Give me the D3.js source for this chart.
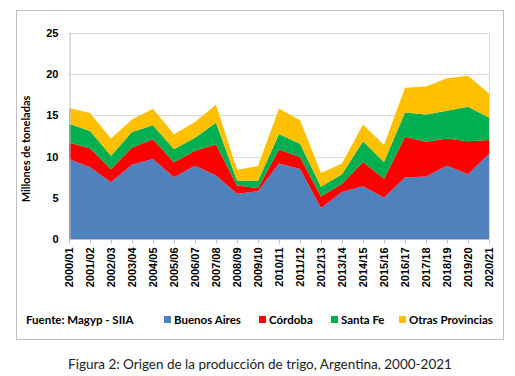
<!DOCTYPE html>
<html>
<head>
<meta charset="utf-8">
<script src="https://cdn.jsdelivr.net/npm/d3@7"></script>
<style>
  body { margin: 0; background: #fff; }
  svg { font-family: Lato, "Open Sans", sans-serif; }
</style>
</head>
<body>
<script>
const campanias = ["2000/01","2001/02","2002/03","2003/04","2004/05","2005/06","2006/07",
  "2007/08","2008/09","2009/10","2010/11","2011/12","2012/13","2013/14","2014/15",
  "2015/16","2016/17","2017/18","2018/19","2019/20","2020/21"];

// millones de toneladas
const buenosAires = [9.7, 8.7, 6.9, 9.0, 9.7, 7.5, 8.9, 7.7, 5.5, 5.8, 9.15, 8.5, 3.75, 5.7, 6.4, 5.0, 7.45, 7.6, 8.9, 7.85, 10.35];
const cordoba     = [2.0, 2.3, 1.6, 2.1, 2.4, 1.8, 1.8, 3.8, 1.0, 0.4, 1.7, 1.45, 1.4, 1.0, 2.95, 2.3, 4.95, 4.2, 3.3, 4.0, 1.65];
const santaFe     = [2.3, 2.1, 1.6, 1.9, 1.7, 1.6, 1.6, 2.6, 0.6, 0.85, 1.9, 1.6, 1.2, 1.15, 2.5, 2.05, 2.95, 3.3, 3.35, 4.2, 2.75];
const otras       = [1.9, 2.2, 2.1, 1.5, 2.0, 1.8, 1.9, 2.2, 1.3, 1.8, 3.1, 2.85, 1.65, 1.3, 2.05, 2.05, 3.0, 3.4, 3.95, 3.75, 2.9];

const series = ["Buenos Aires", "Córdoba", "Santa Fe", "Otras Provincias"];
const colors = ["#4f81bd", "#ff0000", "#00b050", "#ffc000"];
const yTicks = [0, 5, 10, 15, 20, 25];

const w = 515, h = 376;
const plotLeft = 69, plotRight = 489, plotTop = 33, plotBottom = 239;

const svg = d3.select("body").append("svg")
  .attr("width", w).attr("height", h);

// chart frame
svg.append("rect")
  .attr("x", 16.5).attr("y", 10.5)
  .attr("width", 487).attr("height", 329)
  .attr("fill", "none").attr("stroke", "#bfbfbf");

const table = campanias.map((c, i) => ({
  campania: c,
  "Buenos Aires": buenosAires[i],
  "Córdoba": cordoba[i],
  "Santa Fe": santaFe[i],
  "Otras Provincias": otras[i]
}));

const stacked = d3.stack().keys(series)(table);

const x = d3.scalePoint().domain(campanias).range([plotLeft, plotRight]);
const y = d3.scaleLinear().domain([0, 25]).range([plotBottom, plotTop]);

// grid
svg.append("g").selectAll("line")
  .data(yTicks.filter(d => d > 0))
  .enter().append("line")
  .attr("x1", plotLeft).attr("x2", plotRight)
  .attr("y1", d => Math.round(y(d)) + 0.5).attr("y2", d => Math.round(y(d)) + 0.5)
  .attr("stroke", "#d9d9d9");

svg.append("line")
  .attr("x1", plotRight + 0.5).attr("x2", plotRight + 0.5)
  .attr("y1", plotTop).attr("y2", plotBottom)
  .attr("stroke", "#d9d9d9");

const area = d3.area()
  .x((d, i) => x(campanias[i]))
  .y0(d => y(d[0]))
  .y1(d => y(d[1]));

svg.append("g").selectAll("path")
  .data(stacked)
  .enter().append("path")
  .attr("d", area)
  .attr("fill", (d, i) => colors[i]);

// y axis
const yAxis = d3.axisLeft(y).tickValues(yTicks).tickSize(0).tickPadding(11);
const gy = svg.append("g").attr("transform", "translate(" + (plotLeft + 0.5) + ",0)").call(yAxis);
gy.select(".domain").attr("stroke", "#bfbfbf");
gy.selectAll("text").attr("font-size", "11px").attr("font-weight", "bold").attr("fill", "#000");

// x axis
const xAxis = d3.axisBottom(x).tickSize(4).tickPadding(4);
const gx = svg.append("g").attr("transform", "translate(0," + (plotBottom + 0.5) + ")").call(xAxis);
gx.select(".domain").attr("stroke", "#bfbfbf").attr("d", "M" + plotLeft + ",0H" + plotRight);
gx.selectAll(".tick line").attr("stroke", "#bfbfbf");
gx.selectAll("text")
  .attr("font-size", "11px").attr("font-weight", "bold").attr("fill", "#000")
  .attr("transform", "rotate(-90)")
  .attr("text-anchor", "end")
  .attr("x", -8).attr("y", 0).attr("dy", "0.35em");

// y title
svg.append("text")
  .attr("transform", "translate(30,149) rotate(-90)")
  .attr("text-anchor", "middle")
  .attr("font-size", "11px").attr("font-weight", "bold")
  .text("Millones de toneladas");

// source
svg.append("text")
  .attr("x", 26).attr("y", 324)
  .attr("font-size", "11.5px").attr("font-weight", "bold")
  .text("Fuente: Magyp - SIIA");

// legend
const legendX = [164, 259, 331, 399];
const legend = svg.append("g").selectAll("g")
  .data(series)
  .enter().append("g")
  .attr("transform", (d, i) => "translate(" + legendX[i] + ",316)");
legend.append("rect")
  .attr("width", 7).attr("height", 7)
  .attr("fill", (d, i) => colors[i]);
legend.append("text")
  .attr("x", 10).attr("y", 8)
  .attr("font-size", "11.5px").attr("font-weight", "bold")
  .text(d => d);

// caption
svg.append("text")
  .attr("x", 260).attr("y", 369)
  .attr("text-anchor", "middle")
  .attr("font-size", "13.5px")
  .attr("fill", "#222")
  .text("Figura 2: Origen de la producción de trigo, Argentina, 2000-2021");
</script>
</body>
</html>
